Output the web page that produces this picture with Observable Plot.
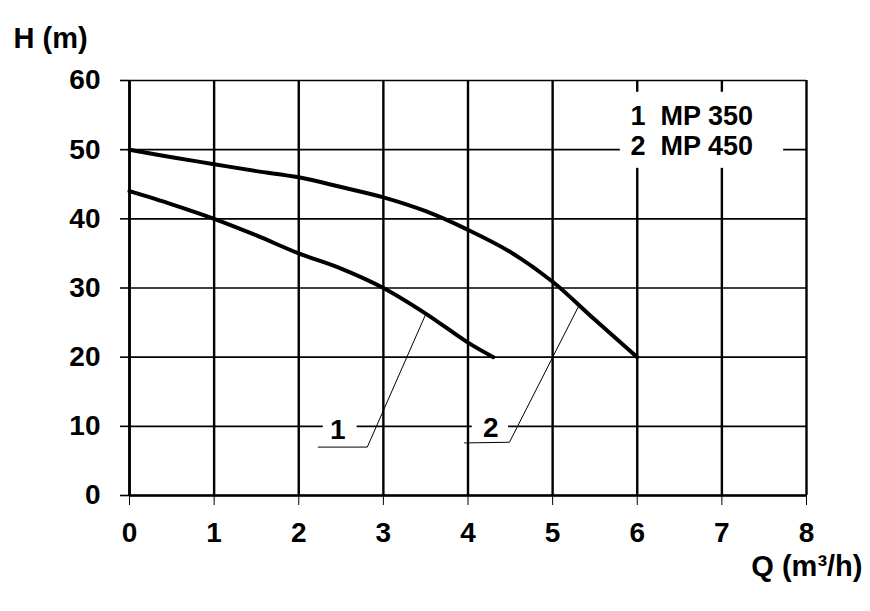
<!DOCTYPE html>
<html><head><meta charset="utf-8">
<script src="https://cdn.jsdelivr.net/npm/d3@7"></script>
<script src="https://cdn.jsdelivr.net/npm/@observablehq/plot@0.6"></script>
<style>html,body{margin:0;padding:0;background:#fff} svg{display:block}</style>
</head><body><div id="chart"></div>
<script>
// Pump curves (Q in m³/h, H in m)
const q1 = [0, 0.5, 1, 1.5, 2, 2.5, 3, 3.5, 4, 4.3];
const h1 = [44, 42.1, 40, 37.6, 35, 32.8, 30, 26.3, 22.1, 20];
const q2 = [0, 0.5, 1, 1.5, 2, 2.5, 3, 3.5, 4, 4.5, 5, 5.5, 6];
const h2 = [50, 48.9, 47.9, 46.9, 46, 44.6, 43.1, 41.1, 38.4, 35.2, 30.9, 25.4, 20];
const xTicks = [0, 1, 2, 3, 4, 5, 6, 7, 8];
const yTicks = [0, 10, 20, 30, 40, 50, 60];
const legendLabels = ["1\u00a0\u00a0MP 350", "2\u00a0\u00a0MP 450"];
const curveLabels = ["1", "2"];
const xTitle = "Q (m³/h)";
const yTitle = "H (m)";
// annotation anchors (data units)
const legendQ = [5.92, 5.92];
const legendH = [54.75, 50.45];
const legendBox = {x1: 5.8, x2: 7.73, y1: 47.3, y2: 58.3};
const labelQ = [2.46, 4.27];
const labelH = [9.45, 9.7];
const labelBoxQ1 = [2.29, 4.05];
const labelBoxQ2 = [2.69, 4.48];
const leader1Q = [3.5, 2.81, 2.23];
const leader1H = [26.2, 7.0, 7.0];
const leader2Q = [5.3, 4.49, 3.96];
const leader2H = [27.2, 7.7, 7.6];

const pump1 = q1.map((q, i) => ({q, h: h1[i]}));
const pump2 = q2.map((q, i) => ({q, h: h2[i]}));
const leader1 = leader1Q.map((q, i) => ({q, h: leader1H[i]}));
const leader2 = leader2Q.map((q, i) => ({q, h: leader2H[i]}));
const legendRows = legendLabels.map((t, i) => ({t, q: legendQ[i], h: legendH[i]}));
const labelRows = curveLabels.map((t, i) => ({t, q: labelQ[i], h: labelH[i], x1: labelBoxQ1[i], x2: labelBoxQ2[i]}));

const FONT = "'Liberation Sans', Arial, sans-serif";
const FS = 28;
const LFS = 27;
const TFS = 29;

const chart = Plot.plot({
  width: 870,
  height: 611,
  marginLeft: 129,
  marginRight: 64,
  marginTop: 80,
  marginBottom: 116,
  style: {fontFamily: FONT, fontSize: FS + "px", fontWeight: "bold", background: "#fff", color: "#000"},
  x: {domain: [0, 8], label: null},
  y: {domain: [0, 60], label: null},
  marks: [
    Plot.ruleY(yTicks, {stroke: "#000", strokeWidth: 1.6}),
    Plot.ruleX(xTicks, {stroke: "#000", strokeWidth: 2.4}),
    Plot.ruleY([0], {stroke: "#000", strokeWidth: 2.6}),
    Plot.ruleX([0], {stroke: "#000", strokeWidth: 2.6}),
    Plot.axisX(xTicks, {tickSize: 10, tickPadding: 17, strokeWidth: 1, fontSize: FS, fontWeight: "bold", tickFormat: d => String(d)}),
    Plot.axisY(yTicks, {tickSize: 9, tickPadding: 20, strokeWidth: 1.6, fontSize: FS, fontWeight: "bold", tickFormat: d => String(d)}),
    Plot.rect([legendBox], {x1: "x1", x2: "x2", y1: "y1", y2: "y2", fill: "#fff"}),
    Plot.rect(labelRows, {x1: "x1", x2: "x2", y1: 8, y2: 11.6, fill: "#fff"}),
    Plot.line(leader1, {x: "q", y: "h", stroke: "#000", strokeWidth: 1}),
    Plot.line(leader2, {x: "q", y: "h", stroke: "#000", strokeWidth: 1}),
    Plot.line(pump1, {x: "q", y: "h", curve: "catmull-rom", stroke: "#000", strokeWidth: 4}),
    Plot.line(pump2, {x: "q", y: "h", curve: "catmull-rom", stroke: "#000", strokeWidth: 4}),
    Plot.text(legendRows, {x: "q", y: "h", text: "t", textAnchor: "start", fontSize: LFS, fontWeight: "bold", fill: "#000"}),
    Plot.text(labelRows, {x: "q", y: "h", text: "t", fontSize: FS, fontWeight: "bold", fill: "#000"}),
    Plot.text([yTitle], {frameAnchor: "top-left", dx: -116, dy: -53, textAnchor: "start", fontSize: TFS, fontWeight: "bold", fill: "#000"}),
    Plot.text([xTitle], {frameAnchor: "bottom-right", dx: 56, dy: 80, textAnchor: "end", fontSize: TFS, fontWeight: "bold", fill: "#000"})
  ]
});
document.getElementById("chart").append(chart);
</script>
</body></html>
